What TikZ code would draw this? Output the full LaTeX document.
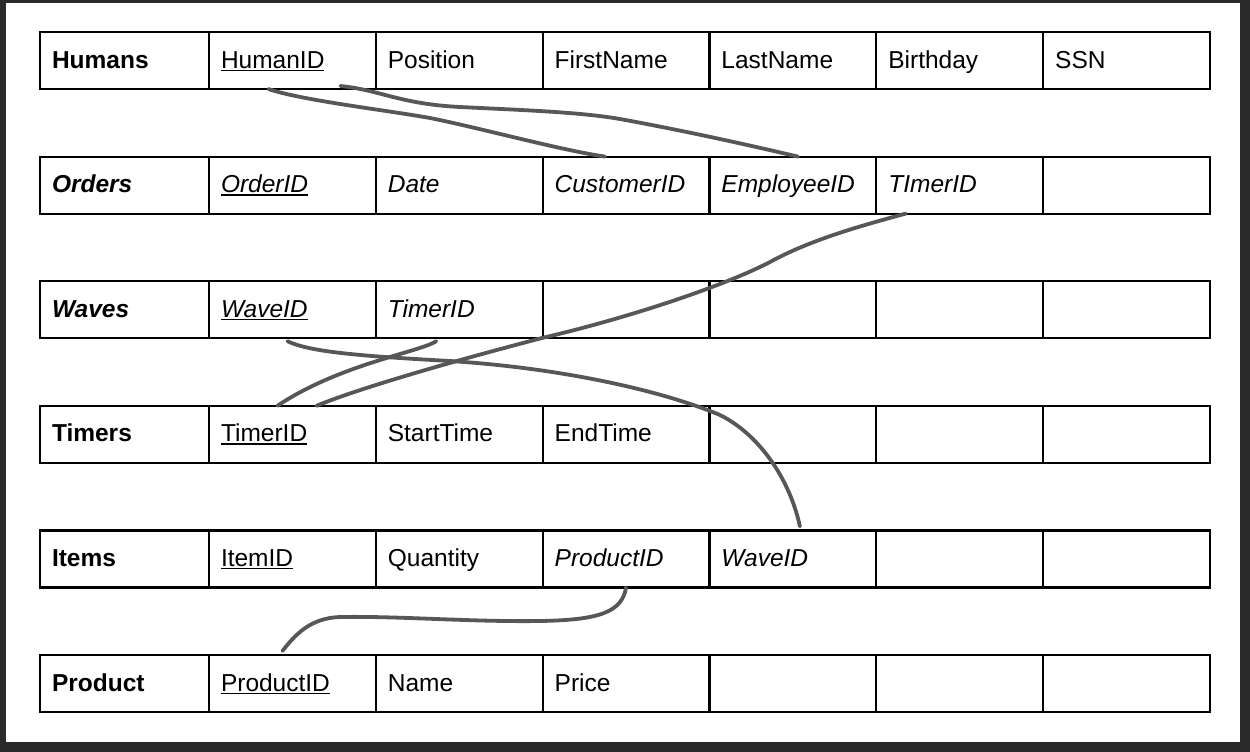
\documentclass[tikz,border=0pt]{standalone}
\usepackage{fontspec}
\setmainfont{Liberation Sans}
\usetikzlibrary{positioning}
\definecolor{frame}{HTML}{2A2A2A}
\definecolor{pen}{HTML}{575757}
\newcommand\pkey[1]{\setbox0\hbox{#1}\rlap{\rule[-3pt]{\wd0}{1.4pt}}\box0}
\tikzset{
  cell/.style={draw,line width=2.2pt,outer sep=0pt,inner xsep=12pt,inner ysep=0pt,
    minimum width=166.83pt,minimum height=57pt,text width=142.83pt,align=left,
    text height=36pt,text depth=21pt,anchor=north west},
  namecell/.style={cell,minimum width=169pt,text width=145pt},
  link/.style={draw=pen,line width=3.8pt,line cap=round,line join=round}
}
\begin{document}
\begin{tikzpicture}[x=1pt,y=-1pt,font=\fontsize{24.5}{29}\selectfont]
\fill[frame] (0,0) rectangle (1250,752);
\fill[white] (6,3) rectangle (1240,742);
% tables
\node[namecell] (hum0) at (40,32) {\textbf{Humans}};
\foreach \t [count=\i] in {\pkey{HumanID},Position,FirstName,LastName,Birthday,SSN}
  \node[cell] (hum\i) at ({209+166.83*(\i-1)},32) {\t};
\node[namecell] (ord0) at (40,156.6) {\textbf{\textit{Orders}}};
\foreach \t [count=\i] in {\pkey{OrderID},Date,CustomerID,EmployeeID,TImerID,{}}
  \node[cell] (ord\i) at ({209+166.83*(\i-1)},156.6) {\itshape\t};
\node[namecell] (wav0) at (40,281.2) {\textbf{\textit{Waves}}};
\foreach \t [count=\i] in {\pkey{WaveID},TimerID,{},{},{},{}}
  \node[cell] (wav\i) at ({209+166.83*(\i-1)},281.2) {\itshape\t};
\node[namecell] (tim0) at (40,405.8) {\textbf{Timers}};
\foreach \t [count=\i] in {\pkey{TimerID},StartTime,EndTime,{},{},{}}
  \node[cell] (tim\i) at ({209+166.83*(\i-1)},405.8) {\t};
\node[namecell] (itm0) at (40,530.4) {\textbf{Items}};
\foreach \t [count=\i] in {\pkey{ItemID},Quantity,\textit{ProductID},\textit{WaveID},{},{}}
  \node[cell] (itm\i) at ({209+166.83*(\i-1)},530.4) {\t};
\node[namecell] (prd0) at (40,655) {\textbf{Product}};
\foreach \t [count=\i] in {\pkey{ProductID},Name,Price,{},{},{}}
  \node[cell] (prd\i) at ({209+166.83*(\i-1)},655) {\t};
% links
\draw[link] ([xshift=-24pt]hum1.south) .. controls (300,100) and (385,110) .. (430,118)
  .. controls (480,128) and (560,150) .. ([xshift=-21pt]ord3.north);
\draw[link] ([xshift=48pt,yshift=3pt]hum1.south) .. controls (380,90) and (400,104) .. (460,107)
  .. controls (520,110) and (580,112) .. (620,119)
  .. controls (680,130) and (740,143) .. ([xshift=5pt]ord4.north);
\draw[link] ([xshift=-54pt]ord5.south) .. controls (860,226) and (810,240) .. (770,262)
  .. controls (720,288) and (620,320) .. (542,338)
  .. controls (450,362) and (360,388) .. ([xshift=24pt]tim1.north);
\draw[link] ([xshift=-23pt,yshift=-3pt]wav2.south) .. controls (420,352) and (340,364) .. ([xshift=-15pt]tim1.north);
\draw[link] ([xshift=-5pt,yshift=-3pt]wav1.south) .. controls (310,352) and (360,356) .. (450,361)
  .. controls (560,368) and (660,390) .. (720,415)
  .. controls (760,435) and (790,480) .. ([xshift=7pt,yshift=4pt]itm4.north);
\draw[link] (itm3.south) .. controls (622,612) and (600,620) .. (540,621)
  .. controls (470,622) and (400,616) .. (340,617)
  .. controls (310,618) and (295,635) .. ([xshift=-10pt,yshift=4pt]prd1.north);
\end{tikzpicture}
\end{document}
